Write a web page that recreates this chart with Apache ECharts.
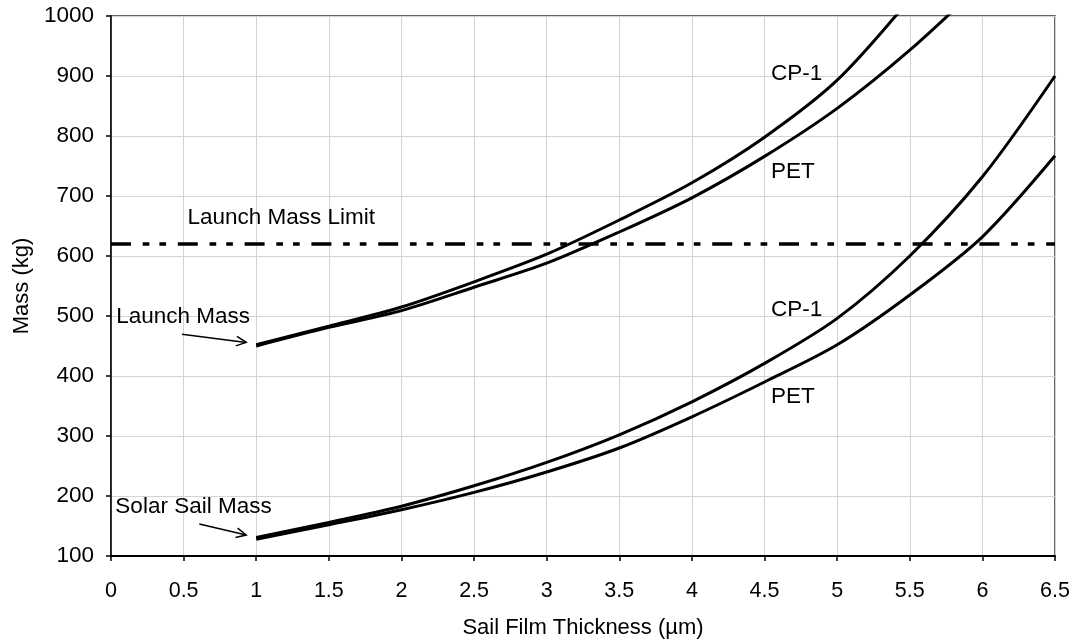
<!DOCTYPE html>
<html>
<head>
<meta charset="utf-8">
<title>Mass vs Sail Film Thickness</title>
<script src="https://cdn.jsdelivr.net/npm/echarts@6/dist/echarts.min.js"></script>
<style>
  html, body { margin: 0; padding: 0; background: #ffffff; }
  #chart { width: 1077px; height: 644px; }
</style>
</head>
<body>
<div id="chart"></div>
<script>
// Film thickness samples (µm)
const thickness = [1, 1.5, 2, 2.5, 3, 3.5, 4, 4.5, 5, 5.5, 6, 6.5];

// Launch mass (kg) for each film
const launchMassCP1 = [452, 483, 515, 557, 603, 660, 722, 798, 893, 1028];
const launchMassPET = [450, 481, 509, 548, 588, 640, 697, 766, 846, 943, 1055];

// Solar sail mass (kg) for each film
const sailMassCP1 = [131, 156, 183, 217, 256, 302, 357, 421, 496, 600, 732, 900];
const sailMassPET = [128, 152, 177, 206, 240, 280, 332, 390, 452, 535, 632, 767];

// Launch vehicle limit (kg)
const launchMassLimit = 620;

// Axis ranges
const xRange = [0, 6.5, 0.5];
const yRange = [100, 1000, 100];

const FONT = '"Liberation Sans", Arial, sans-serif';

function pairs(xs, ys) {
  return ys.map((v, i) => [xs[i], v]);
}

const curveStyle = { color: '#000', width: 3 };

const chart = echarts.init(document.getElementById('chart'), null, { renderer: 'canvas' });

chart.setOption({
  animation: false,
  backgroundColor: '#ffffff',
  textStyle: { fontFamily: FONT, color: '#000' },
  grid: {
    left: 111, right: 22, top: 16, bottom: 88,
    show: true, borderColor: '#333', borderWidth: 1.5, backgroundColor: 'transparent'
  },
  xAxis: {
    type: 'value',
    min: xRange[0], max: xRange[1], interval: xRange[2],
    name: 'Sail Film Thickness (µm)',
    nameLocation: 'middle',
    nameGap: 61,
    nameTextStyle: { fontFamily: FONT, fontSize: 22, color: '#000' },
    axisLine: { show: true, onZero: false, lineStyle: { color: '#000', width: 2 } },
    axisTick: { show: true, inside: false, length: 5, lineStyle: { color: '#000', width: 1.5 } },
    axisLabel: { fontFamily: FONT, fontSize: 21.5, color: '#000', margin: 24, formatter: v => String(v) },
    splitLine: { show: true, lineStyle: { color: '#d4d4d4', width: 1 } }
  },
  yAxis: {
    type: 'value',
    min: yRange[0], max: yRange[1], interval: yRange[2],
    name: 'Mass (kg)',
    nameLocation: 'middle',
    nameGap: 78,
    nameRotate: 90,
    nameTextStyle: { fontFamily: FONT, fontSize: 22, color: '#000' },
    axisLine: { show: true, onZero: false, lineStyle: { color: '#000', width: 1.5 } },
    axisTick: { show: true, inside: false, length: 5, lineStyle: { color: '#000', width: 1.5 } },
    axisLabel: { fontFamily: FONT, fontSize: 22.5, color: '#000', margin: 17, formatter: v => String(v) },
    splitLine: { show: true, lineStyle: { color: '#d4d4d4', width: 1 } }
  },
  series: [
    {
      name: 'Launch Mass Limit', type: 'line', symbol: 'none', clip: true,
      data: [[xRange[0], launchMassLimit], [xRange[1], launchMassLimit]],
      lineStyle: { color: '#000', width: 3.5, type: [20, 11.7, 6.7, 10, 6.7, 11.7] },
      z: 3
    },
    {
      name: 'Launch Mass CP-1', type: 'line', symbol: 'none', smooth: 0.3, clip: true,
      data: pairs(thickness, launchMassCP1), lineStyle: curveStyle
    },
    {
      name: 'Launch Mass PET', type: 'line', symbol: 'none', smooth: 0.3, clip: true,
      data: pairs(thickness, launchMassPET), lineStyle: curveStyle
    },
    {
      name: 'Solar Sail Mass CP-1', type: 'line', symbol: 'none', smooth: 0.3, clip: true,
      data: pairs(thickness, sailMassCP1), lineStyle: curveStyle
    },
    {
      name: 'Solar Sail Mass PET', type: 'line', symbol: 'none', smooth: 0.3, clip: true,
      data: pairs(thickness, sailMassPET), lineStyle: curveStyle
    }
  ]
});

// Annotation anchors in data space: [x, y] of the text's left / vertical centre
const textNotes = [
  { text: 'CP-1', at: [4.544, 904] },
  { text: 'PET', at: [4.544, 741] },
  { text: 'CP-1', at: [4.544, 510] },
  { text: 'PET', at: [4.544, 366] },
  { text: 'Launch Mass Limit', at: [0.526, 664] },
  { text: 'Launch Mass', at: [0.036, 499] },
  { text: 'Solar Sail Mass', at: [0.03, 182] }
];

// Pointer arrows in data space: from -> to
const arrowNotes = [
  { from: [0.489, 469.5], to: [0.931, 456] },
  { from: [0.608, 153.3], to: [0.931, 135] }
];

function toPx(p) {
  return chart.convertToPixel({ gridIndex: 0 }, p);
}

const graphics = [];

textNotes.forEach(n => {
  const p = toPx(n.at);
  graphics.push({
    type: 'text',
    x: p[0], y: p[1],
    style: {
      text: n.text,
      fill: '#000',
      font: '22.5px ' + FONT,
      textAlign: 'left',
      textVerticalAlign: 'middle'
    },
    z: 10
  });
});

arrowNotes.forEach(a => {
  const s = toPx(a.from);
  const e = toPx(a.to);
  const ang = Math.atan2(e[1] - s[1], e[0] - s[0]);
  const headLen = 11, spread = 0.45;
  const h1 = [e[0] - headLen * Math.cos(ang - spread), e[1] - headLen * Math.sin(ang - spread)];
  const h2 = [e[0] - headLen * Math.cos(ang + spread), e[1] - headLen * Math.sin(ang + spread)];
  graphics.push({
    type: 'polyline',
    shape: { points: [s, e] },
    style: { stroke: '#000', lineWidth: 1.5, fill: null },
    z: 10
  });
  graphics.push({
    type: 'polyline',
    shape: { points: [h1, e, h2] },
    style: { stroke: '#000', lineWidth: 1.5, fill: null },
    z: 10
  });
});

chart.setOption({ graphic: graphics });
</script>
</body>
</html>
